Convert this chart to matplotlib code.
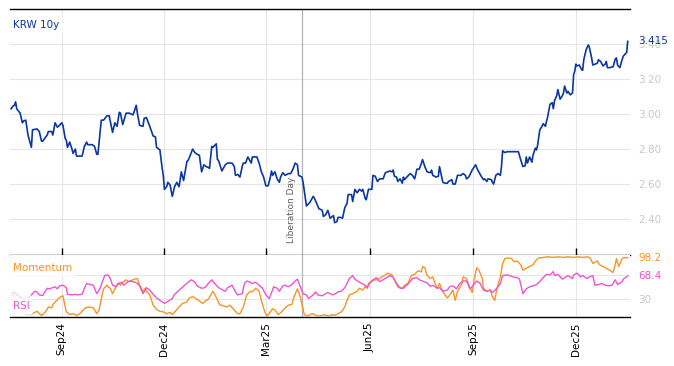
import matplotlib
matplotlib.use("Agg")
import matplotlib.pyplot as plt
import matplotlib.dates as mdates
import pandas as pd

# KRW 10y yield (%)
krw_dates = [
    "2024-07-18", "2024-07-20", "2024-07-21", "2024-07-22", "2024-07-23", "2024-07-26", "2024-07-28", "2024-07-29", "2024-07-31",
    "2024-08-02", "2024-08-05", "2024-08-06", "2024-08-10", "2024-08-12", "2024-08-14", "2024-08-15", "2024-08-19", "2024-08-20",
    "2024-08-23", "2024-08-24", "2024-08-26", "2024-08-28", "2024-08-29",
    "2024-09-01", "2024-09-02", "2024-09-04", "2024-09-05", "2024-09-06", "2024-09-08", "2024-09-10", "2024-09-11", "2024-09-13",
    "2024-09-14", "2024-09-19", "2024-09-21", "2024-09-23", "2024-09-24", "2024-09-28", "2024-09-30",
    "2024-10-02", "2024-10-03", "2024-10-06", "2024-10-08", "2024-10-11", "2024-10-13", "2024-10-16", "2024-10-18", "2024-10-20",
    "2024-10-22", "2024-10-23", "2024-10-25", "2024-10-28", "2024-10-31",
    "2024-11-03", "2024-11-04", "2024-11-06", "2024-11-07", "2024-11-09", "2024-11-12", "2024-11-13", "2024-11-15", "2024-11-18",
    "2024-11-21", "2024-11-23", "2024-11-24", "2024-11-26", "2024-11-27", "2024-11-29", "2024-11-30",
    "2024-12-01", "2024-12-03", "2024-12-04", "2024-12-06", "2024-12-08", "2024-12-10", "2024-12-12", "2024-12-14", "2024-12-16",
    "2024-12-18", "2024-12-21", "2024-12-22", "2024-12-24", "2024-12-26", "2024-12-28", "2024-12-30",
    "2025-01-01", "2025-01-03", "2025-01-05", "2025-01-07", "2025-01-09", "2025-01-10", "2025-01-12", "2025-01-13", "2025-01-16",
    "2025-01-17", "2025-01-18", "2025-01-21", "2025-01-24", "2025-01-26", "2025-01-30",
    "2025-02-01", "2025-02-02", "2025-02-04", "2025-02-06", "2025-02-08", "2025-02-09", "2025-02-11", "2025-02-13", "2025-02-16",
    "2025-02-17", "2025-02-21", "2025-02-23", "2025-02-25", "2025-02-27",
    "2025-03-01", "2025-03-03", "2025-03-05", "2025-03-06", "2025-03-07", "2025-03-09", "2025-03-11", "2025-03-13", "2025-03-14",
    "2025-03-16", "2025-03-18", "2025-03-21", "2025-03-23", "2025-03-25", "2025-03-27", "2025-03-29", "2025-03-30",
    "2025-04-02", "2025-04-03", "2025-04-05", "2025-04-06", "2025-04-09", "2025-04-12", "2025-04-13", "2025-04-15", "2025-04-17",
    "2025-04-20", "2025-04-21", "2025-04-23", "2025-04-25", "2025-04-27", "2025-04-30",
    "2025-05-01", "2025-05-03", "2025-05-04", "2025-05-06", "2025-05-08", "2025-05-10", "2025-05-12", "2025-05-13", "2025-05-16",
    "2025-05-17", "2025-05-19", "2025-05-21", "2025-05-23", "2025-05-25", "2025-05-26", "2025-05-28", "2025-05-29", "2025-05-31",
    "2025-06-03", "2025-06-04", "2025-06-06", "2025-06-08", "2025-06-10", "2025-06-13", "2025-06-15", "2025-06-17", "2025-06-19",
    "2025-06-21", "2025-06-22", "2025-06-23", "2025-06-25", "2025-06-26", "2025-06-28", "2025-06-30",
    "2025-07-01", "2025-07-02", "2025-07-04", "2025-07-07", "2025-07-09", "2025-07-11", "2025-07-13", "2025-07-15", "2025-07-17",
    "2025-07-18", "2025-07-20", "2025-07-22", "2025-07-25", "2025-07-26", "2025-07-27", "2025-07-30",
    "2025-08-01", "2025-08-02", "2025-08-04", "2025-08-05", "2025-08-07", "2025-08-09", "2025-08-10", "2025-08-13", "2025-08-14",
    "2025-08-16", "2025-08-17", "2025-08-18", "2025-08-21", "2025-08-23", "2025-08-25", "2025-08-26", "2025-08-28", "2025-08-31",
    "2025-09-02", "2025-09-03", "2025-09-05", "2025-09-08", "2025-09-10", "2025-09-11", "2025-09-13", "2025-09-14", "2025-09-17",
    "2025-09-18", "2025-09-19", "2025-09-21", "2025-09-23", "2025-09-25", "2025-09-26", "2025-09-27", "2025-09-29",
    "2025-10-01", "2025-10-03", "2025-10-06", "2025-10-10", "2025-10-11", "2025-10-13", "2025-10-15", "2025-10-17", "2025-10-18",
    "2025-10-19", "2025-10-21", "2025-10-23", "2025-10-24", "2025-10-26", "2025-10-27", "2025-10-28", "2025-10-30",
    "2025-11-01", "2025-11-02", "2025-11-04", "2025-11-05", "2025-11-06", "2025-11-08", "2025-11-10", "2025-11-11", "2025-11-12",
    "2025-11-14", "2025-11-15", "2025-11-17", "2025-11-19", "2025-11-20", "2025-11-21", "2025-11-23", "2025-11-24", "2025-11-26",
    "2025-11-28", "2025-11-29", "2025-11-30",
    "2025-12-01", "2025-12-02", "2025-12-04", "2025-12-06", "2025-12-07", "2025-12-08", "2025-12-10", "2025-12-12", "2025-12-13",
    "2025-12-15", "2025-12-16", "2025-12-18", "2025-12-20", "2025-12-21", "2025-12-23", "2025-12-25", "2025-12-27", "2025-12-28",
    "2025-12-29", "2025-12-31",
    "2026-01-03", "2026-01-05", "2026-01-06", "2026-01-07", "2026-01-09", "2026-01-11", "2026-01-12", "2026-01-14", "2026-01-15",
    "2026-01-16",
]
krw_10y = [
    3.03, 3.047, 3.05, 3.07, 3.03, 3.005, 2.95, 2.96, 2.965,
    2.88, 2.81, 2.91, 2.915, 2.90, 2.845, 2.845, 2.88, 2.90, 2.90, 2.88, 2.95, 2.925, 2.93,
    2.95, 2.935, 2.86, 2.85, 2.81, 2.84, 2.80, 2.775, 2.80, 2.76, 2.76, 2.815, 2.84, 2.825, 2.825, 2.815,
    2.77, 2.77, 2.965, 2.965, 2.99, 2.99, 2.895, 2.95, 2.93, 3.01, 3.005, 2.94, 3.005, 3.005,
    2.995, 3.01, 3.05, 3.005, 2.935, 2.93, 2.975, 2.98, 2.93, 2.875, 2.87, 2.81, 2.80, 2.795, 2.69, 2.65,
    2.57, 2.585, 2.61, 2.595, 2.53, 2.585, 2.61, 2.585, 2.67, 2.62, 2.73, 2.735, 2.765, 2.80, 2.78, 2.77,
    2.765, 2.67, 2.71, 2.70, 2.695, 2.69, 2.815, 2.81, 2.83, 2.74, 2.735, 2.675, 2.71, 2.72, 2.72,
    2.70, 2.65, 2.655, 2.64, 2.70, 2.72, 2.72, 2.755, 2.72, 2.755, 2.755, 2.72, 2.67, 2.64,
    2.59, 2.59, 2.64, 2.675, 2.65, 2.67, 2.63, 2.61, 2.64, 2.665, 2.65, 2.66, 2.66, 2.685, 2.72, 2.71, 2.65,
    2.64, 2.61, 2.52, 2.475, 2.495, 2.53, 2.52, 2.49, 2.46, 2.45, 2.415, 2.425, 2.45, 2.405, 2.42,
    2.38, 2.385, 2.41, 2.41, 2.405, 2.465, 2.49, 2.54, 2.54, 2.50, 2.57, 2.55, 2.57, 2.56, 2.57, 2.52, 2.51, 2.57,
    2.57, 2.65, 2.645, 2.615, 2.63, 2.63, 2.665, 2.67, 2.675, 2.67, 2.68, 2.645, 2.64, 2.615, 2.63, 2.605,
    2.64, 2.625, 2.64, 2.66, 2.65, 2.63, 2.685, 2.685, 2.72, 2.74, 2.70, 2.67, 2.665, 2.68, 2.65, 2.64,
    2.645, 2.70, 2.64, 2.61, 2.605, 2.605, 2.615, 2.625, 2.60, 2.60, 2.625, 2.65, 2.65, 2.66, 2.65, 2.63, 2.64, 2.68,
    2.70, 2.71, 2.68, 2.645, 2.625, 2.63, 2.615, 2.63, 2.625, 2.61, 2.60, 2.65, 2.66, 2.65, 2.70, 2.79, 2.78,
    2.785, 2.785, 2.785, 2.785, 2.785, 2.74, 2.70, 2.705, 2.755, 2.72, 2.755, 2.725, 2.765, 2.805, 2.795, 2.82, 2.91,
    2.93, 2.945, 2.93, 2.96, 2.985, 3.055, 3.065, 3.03, 3.075, 3.105, 3.14, 3.085, 3.105, 3.12, 3.16, 3.12, 3.13, 3.11,
    3.12, 3.225, 3.245,
    3.285, 3.275, 3.28, 3.255, 3.25, 3.31, 3.365, 3.395, 3.38, 3.32, 3.28, 3.285, 3.29, 3.31, 3.30, 3.275, 3.285, 3.30,
    3.265, 3.265,
    3.27, 3.315, 3.32, 3.28, 3.265, 3.31, 3.33, 3.345, 3.35, 3.415,
]

rsi_dates = [
    "2024-07-19", "2024-07-20", "2024-07-23", "2024-07-26", "2024-07-28",
    "2024-08-02", "2024-08-05", "2024-08-08", "2024-08-10", "2024-08-12", "2024-08-15", "2024-08-17", "2024-08-19", "2024-08-21",
    "2024-08-24", "2024-08-26", "2024-08-28", "2024-08-30",
    "2024-09-02", "2024-09-05", "2024-09-06", "2024-09-10", "2024-09-13", "2024-09-15", "2024-09-19", "2024-09-21", "2024-09-23",
    "2024-09-26", "2024-09-29", "2024-09-30",
    "2024-10-02", "2024-10-05", "2024-10-07", "2024-10-09", "2024-10-12", "2024-10-14", "2024-10-16", "2024-10-19", "2024-10-21",
    "2024-10-24", "2024-10-26", "2024-10-29", "2024-10-31",
    "2024-11-03", "2024-11-05", "2024-11-07", "2024-11-09", "2024-11-12", "2024-11-14", "2024-11-15", "2024-11-18", "2024-11-21",
    "2024-11-24", "2024-11-27",
    "2024-12-01", "2024-12-04", "2024-12-08", "2024-12-10", "2024-12-13", "2024-12-16", "2024-12-19", "2024-12-22", "2024-12-25",
    "2024-12-28", "2024-12-30",
    "2025-01-03", "2025-01-06", "2025-01-09", "2025-01-12", "2025-01-15", "2025-01-18", "2025-01-24", "2025-01-26", "2025-01-30",
    "2025-02-02", "2025-02-04", "2025-02-08", "2025-02-10", "2025-02-12", "2025-02-15", "2025-02-17", "2025-02-20", "2025-02-23",
    "2025-02-26",
    "2025-03-01", "2025-03-04", "2025-03-06", "2025-03-08", "2025-03-11", "2025-03-13", "2025-03-16", "2025-03-18", "2025-03-21",
    "2025-03-24", "2025-03-27", "2025-03-29", "2025-03-31",
    "2025-04-03", "2025-04-06", "2025-04-08", "2025-04-12", "2025-04-14", "2025-04-16", "2025-04-20", "2025-04-22", "2025-04-25",
    "2025-04-29",
    "2025-05-01", "2025-05-04", "2025-05-07", "2025-05-10", "2025-05-12", "2025-05-14", "2025-05-17", "2025-05-19", "2025-05-22",
    "2025-05-25", "2025-05-28", "2025-05-30",
    "2025-06-01", "2025-06-04", "2025-06-07", "2025-06-10", "2025-06-13", "2025-06-16", "2025-06-19", "2025-06-22", "2025-06-25",
    "2025-06-28",
    "2025-07-01", "2025-07-04", "2025-07-07", "2025-07-09", "2025-07-13", "2025-07-16", "2025-07-18", "2025-07-22", "2025-07-25",
    "2025-07-27", "2025-07-31",
    "2025-08-02", "2025-08-05", "2025-08-09", "2025-08-11", "2025-08-14", "2025-08-17", "2025-08-20", "2025-08-23", "2025-08-26",
    "2025-08-29",
    "2025-09-01", "2025-09-04", "2025-09-07", "2025-09-10", "2025-09-13", "2025-09-16", "2025-09-18", "2025-09-22", "2025-09-25",
    "2025-09-27",
    "2025-10-01", "2025-10-03", "2025-10-06", "2025-10-10", "2025-10-12", "2025-10-15", "2025-10-18", "2025-10-21", "2025-10-24",
    "2025-10-27", "2025-10-30",
    "2025-11-02", "2025-11-05", "2025-11-08", "2025-11-11", "2025-11-12", "2025-11-15", "2025-11-19", "2025-11-21", "2025-11-24",
    "2025-11-28", "2025-11-29",
    "2025-12-02", "2025-12-05", "2025-12-07", "2025-12-11", "2025-12-13", "2025-12-16", "2025-12-18", "2025-12-21", "2025-12-24",
    "2025-12-27", "2025-12-30",
    "2026-01-02", "2026-01-05", "2026-01-07", "2026-01-11", "2026-01-12", "2026-01-15", "2026-01-16",
]
rsi = [
    36.7, 42, 38, 34, 31,
    31, 37, 43, 42, 37, 36, 42, 48, 47, 49, 50.5, 47, 52,
    53, 49, 38, 37, 38, 37, 38, 48, 56, 54, 53, 48,
    39, 48, 59, 69, 70, 64, 53, 50.5, 56, 58, 53, 58, 60,
    59, 58, 56, 52, 39, 45, 49, 45, 38, 32, 28,
    23, 26, 31, 38, 43, 48, 53, 58, 62, 58, 52,
    48, 49, 56, 62, 55, 49, 43, 49, 53,
    42, 37, 39, 56, 60, 58, 56, 58, 53, 48,
    37, 31, 41, 50.5, 48, 43, 52, 53, 50.5, 54, 60, 63, 53,
    39, 37, 31, 37, 42, 37, 35.5, 38, 41, 37,
    38, 42, 43, 49, 56, 64, 69, 63, 59, 56, 53, 49,
    56, 62, 65.5, 59, 62, 65.5, 69, 65.5, 56, 48,
    48, 53, 59, 64, 65.5, 61, 60, 57, 51, 53, 48,
    49, 43, 45, 50.5, 52, 47, 56, 60, 60, 47,
    53, 60, 56, 45, 43, 45, 41, 48, 56, 69,
    70, 69, 67, 65.5, 63, 39, 47, 50.5, 52, 54, 59,
    65.5, 71, 70, 75.5, 69, 71, 63, 65.5, 69, 64, 70,
    73, 67, 69, 64, 67, 69, 53, 54, 56, 53, 52,
    53, 62, 54, 59, 63, 67, 68.4,
]

mom_dates = [
    "2024-07-20", "2024-07-26",
    "2024-08-01", "2024-08-05", "2024-08-06", "2024-08-10", "2024-08-12", "2024-08-14", "2024-08-17", "2024-08-19", "2024-08-20",
    "2024-08-23", "2024-08-24", "2024-08-27", "2024-08-29", "2024-08-31",
    "2024-09-02", "2024-09-04", "2024-09-05", "2024-09-08", "2024-09-11", "2024-09-14", "2024-09-17", "2024-09-20", "2024-09-22",
    "2024-09-25", "2024-09-29",
    "2024-10-02", "2024-10-04", "2024-10-07", "2024-10-08", "2024-10-11", "2024-10-12", "2024-10-14", "2024-10-16", "2024-10-19",
    "2024-10-21", "2024-10-23", "2024-10-25", "2024-10-28", "2024-10-30",
    "2024-11-01", "2024-11-03", "2024-11-06", "2024-11-07", "2024-11-09", "2024-11-12", "2024-11-14", "2024-11-15", "2024-11-18",
    "2024-11-21", "2024-11-24", "2024-11-27", "2024-11-30",
    "2024-12-03", "2024-12-06", "2024-12-08", "2024-12-12", "2024-12-14", "2024-12-17", "2024-12-21", "2024-12-23", "2024-12-26",
    "2024-12-29",
    "2025-01-01", "2025-01-04", "2025-01-07", "2025-01-09", "2025-01-13", "2025-01-16", "2025-01-19", "2025-01-22", "2025-01-25",
    "2025-01-28", "2025-01-31",
    "2025-02-04", "2025-02-06", "2025-02-09", "2025-02-12", "2025-02-15", "2025-02-17", "2025-02-20", "2025-02-23", "2025-02-25",
    "2025-02-28",
    "2025-03-02", "2025-03-05", "2025-03-07", "2025-03-09", "2025-03-12", "2025-03-15", "2025-03-18", "2025-03-21", "2025-03-24",
    "2025-03-26", "2025-03-29", "2025-03-31",
    "2025-04-03", "2025-04-04", "2025-04-07", "2025-04-11", "2025-04-13", "2025-04-16", "2025-04-20", "2025-04-22", "2025-04-25",
    "2025-04-29",
    "2025-05-01", "2025-05-04", "2025-05-07", "2025-05-10", "2025-05-12", "2025-05-14", "2025-05-17", "2025-05-21", "2025-05-23",
    "2025-05-26", "2025-05-28", "2025-05-30", "2025-05-31",
    "2025-06-03", "2025-06-06", "2025-06-08", "2025-06-12", "2025-06-15", "2025-06-17", "2025-06-21", "2025-06-23", "2025-06-26",
    "2025-06-30",
    "2025-07-02", "2025-07-05", "2025-07-08", "2025-07-11", "2025-07-14", "2025-07-17", "2025-07-18", "2025-07-20", "2025-07-22",
    "2025-07-25", "2025-07-27", "2025-07-29", "2025-07-31",
    "2025-08-02", "2025-08-05", "2025-08-07", "2025-08-09", "2025-08-12", "2025-08-14", "2025-08-16", "2025-08-18", "2025-08-22",
    "2025-08-23", "2025-08-26", "2025-08-28", "2025-08-31",
    "2025-09-02", "2025-09-04", "2025-09-06", "2025-09-09", "2025-09-10", "2025-09-13", "2025-09-16", "2025-09-18", "2025-09-20",
    "2025-09-22", "2025-09-25", "2025-09-27", "2025-09-29",
    "2025-10-02", "2025-10-05", "2025-10-07", "2025-10-10", "2025-10-13", "2025-10-15", "2025-10-18", "2025-10-21", "2025-10-24",
    "2025-10-26", "2025-10-29",
    "2025-11-02", "2025-11-06", "2025-11-11", "2025-11-15", "2025-11-20", "2025-11-24", "2025-11-29",
    "2025-12-03", "2025-12-07", "2025-12-12", "2025-12-14", "2025-12-16", "2025-12-20", "2025-12-22", "2025-12-25", "2025-12-29",
    "2025-12-31",
    "2026-01-03", "2026-01-05", "2026-01-06", "2026-01-08", "2026-01-11", "2026-01-12", "2026-01-15", "2026-01-16",
]
momentum = [
    6, 9,
    4.5, 3, 6, 10, 6, 3, 8, 13, 17, 15.5, 21, 27, 31, 34,
    35.5, 17, 9, 4.5, 6, 3, 6, 12, 15.5, 17, 15.5,
    6, 12, 39, 47, 53, 50.5, 48, 39, 50.5, 56, 53, 58, 62, 59,
    60, 62, 64, 64, 53, 43, 48, 43, 37, 20, 13, 10, 9,
    6, 8, 4.5, 13, 17, 23, 25.5, 32, 34, 31,
    27, 23, 28, 30, 43, 33, 21, 19, 17, 20, 14,
    6, 6, 17, 37, 43, 42, 48, 43, 28, 9,
    2, 9, 14, 12, 4.5, 9, 15.5, 20, 21, 34, 47, 37,
    14, 4.5, 2, 6, 4.5, 2, 3, 4.5, 2, 4.5,
    3, 6, 9, 17, 28, 37, 39, 43, 48, 45, 50.5, 48, 56,
    60, 62, 62, 67, 70, 73, 70, 62, 50.5, 48,
    53, 56, 69, 71, 77, 75, 84, 82, 69, 64, 67, 56, 48,
    56, 42, 37, 32, 39, 45, 28, 43, 56, 67, 64, 53, 41,
    64, 82, 78, 64, 48, 43, 45, 34, 28, 48, 67, 89, 97,
    98, 97, 92, 93, 87, 78, 81, 84, 87, 93, 98,
    99, 100, 99, 100, 99, 100, 99,
    100, 99, 100, 97, 89, 93, 87, 84, 80, 78,
    74, 88, 97, 84, 97, 98, 99, 98.2,
]

liberation_day = "2025-04-02"
warmup_end = "2024-08-08"

blue = "#0a37a0"
orange = "#f7931e"
pink = "#f050d4"
grid_c = "#e6e6e6"

krw = pd.Series(krw_10y, index=pd.to_datetime(krw_dates))
rsi_s = pd.Series(rsi, index=pd.to_datetime(rsi_dates))
mom_s = pd.Series(momentum, index=pd.to_datetime(mom_dates))

fig = plt.figure(figsize=(6.74, 3.66), dpi=100)
ax = fig.add_axes([0.0148, 0.3033, 0.9199, 0.6721])
ax2 = fig.add_axes([0.0148, 0.1339, 0.9199, 0.1694], sharex=ax)

# main panel
ax.plot(krw.index, krw.values, color=blue, lw=1.2, zorder=3)
ax.set_ylim(2.195, 3.60)
ax.set_xlim(pd.Timestamp("2024-07-17"), pd.Timestamp("2026-01-18"))
ax.set_yticks([2.4, 2.6, 2.8, 3.0, 3.2, 3.4])
ax.set_yticklabels(["%.2f" % t for t in [2.4, 2.6, 2.8, 3.0, 3.2, 3.4]])
ax.yaxis.tick_right()
ax.tick_params(axis="y", length=0, labelcolor="#c8c8c8", labelsize=7.5, pad=6)
ax.xaxis.set_major_locator(mdates.MonthLocator(bymonth=[3, 6, 9, 12]))
ax.xaxis.set_major_formatter(mdates.DateFormatter("%b%y"))
ax.tick_params(axis="x", direction="in", length=5, width=1, color="black", labelbottom=False)
ax.grid(True, color=grid_c, lw=0.8)
ax.set_axisbelow(True)
for s in ["left", "right"]:
    ax.spines[s].set_visible(False)
ax.spines["top"].set_linewidth(1)
ax.spines["bottom"].set_linewidth(1)

ax.text(0.005, 0.935, "KRW 10y", transform=ax.transAxes, color=blue, fontsize=7.5,
        va="center", ha="left", zorder=5,
        bbox=dict(facecolor="white", edgecolor="none", pad=2.5))
ax.annotate("%.3f" % krw.values[-1], xy=(1.0, krw.values[-1]), xycoords=("axes fraction", "data"),
            xytext=(6, 0), textcoords="offset points", color=blue, fontsize=7.5, va="center", ha="left")

lib = pd.Timestamp(liberation_day)
ax.axvline(lib, color="#b4b4b4", lw=0.9, zorder=2)
ax2.axvline(lib, color="#b4b4b4", lw=0.9, zorder=2)
ax.annotate("Liberation Day", xy=(lib, 2.265), xytext=(-4, 0), textcoords="offset points",
            rotation=90, color="#606060", fontsize=6.5, ha="right", va="bottom")

# oscillator panel
cut = pd.Timestamp(warmup_end)
for s, c in [(mom_s, orange), (rsi_s, pink)]:
    ax2.plot(s.index, s.values, color=c, lw=0.9, alpha=0.3, zorder=3)
    part = s[s.index >= s.index[s.index < cut][-1]]
    ax2.plot(part.index, part.values, color=c, lw=0.9, zorder=3)

ax2.set_ylim(0.5, 103)
ax2.set_yticks([30, 70])
ax2.set_yticklabels(["30", ""])
ax2.yaxis.tick_right()
ax2.tick_params(axis="y", length=0, labelcolor="#c8c8c8", labelsize=7.5, pad=6)
ax2.tick_params(axis="x", length=0, labelsize=7.5, rotation=90, pad=4)
ax2.grid(True, color=grid_c, lw=0.8)
ax2.set_axisbelow(True)
for s in ["left", "right", "top"]:
    ax2.spines[s].set_visible(False)
ax2.spines["bottom"].set_linewidth(1)

ax2.text(0.005, 0.79, "Momentum", transform=ax2.transAxes, color=orange, fontsize=7.5,
         va="center", ha="left", zorder=5,
         bbox=dict(facecolor="white", edgecolor="none", alpha=0.85, pad=2))
ax2.text(0.005, 0.18, "RSI", transform=ax2.transAxes, color=pink, fontsize=7.5,
         va="center", ha="left", zorder=5,
         bbox=dict(facecolor="white", edgecolor="none", alpha=0.7, pad=2))
ax2.annotate("%.1f" % mom_s.values[-1], xy=(1.0, mom_s.values[-1]), xycoords=("axes fraction", "data"),
             xytext=(6, 0), textcoords="offset points", color=orange, fontsize=7.5, va="center", ha="left")
ax2.annotate("%.1f" % rsi_s.values[-1], xy=(1.0, rsi_s.values[-1]), xycoords=("axes fraction", "data"),
             xytext=(6, 0), textcoords="offset points", color=pink, fontsize=7.5, va="center", ha="left")

fig.savefig("out.png", dpi=100)
